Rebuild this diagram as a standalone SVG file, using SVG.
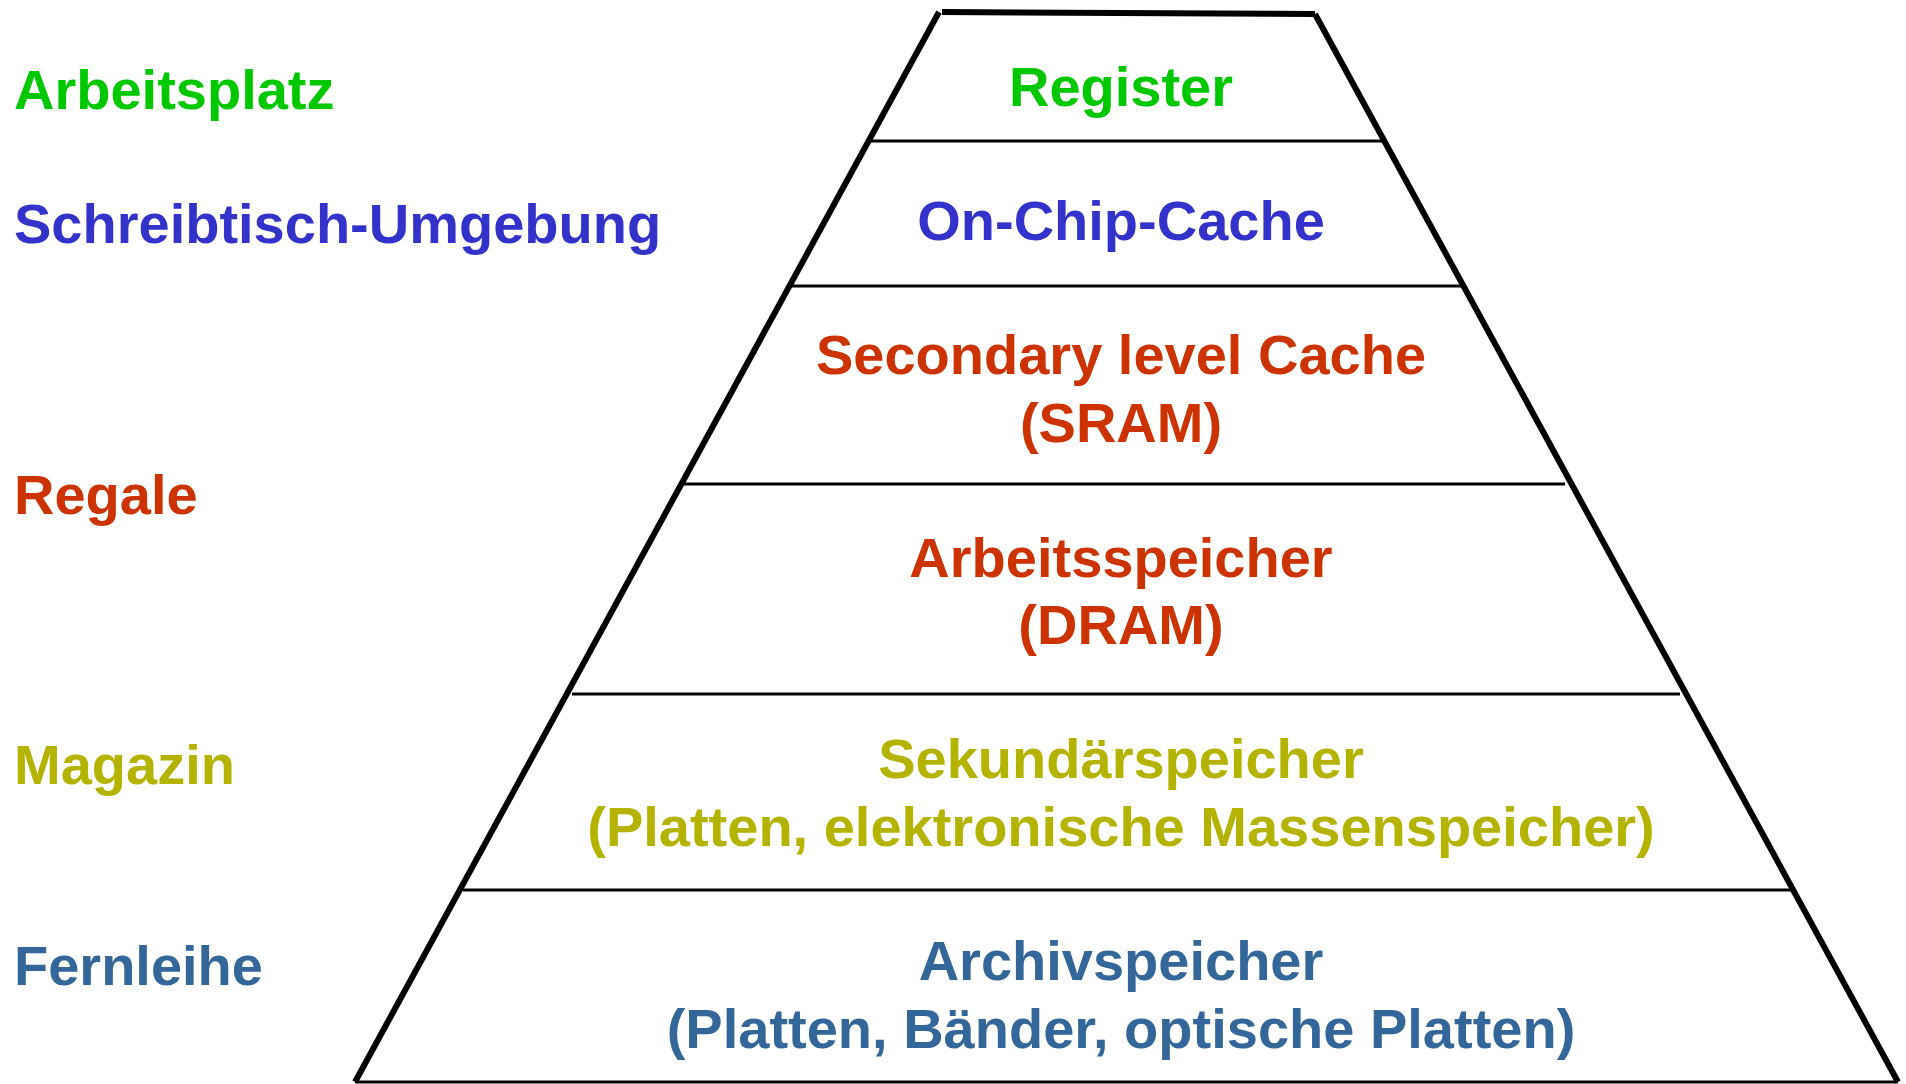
<svg xmlns="http://www.w3.org/2000/svg" width="1906" height="1084" viewBox="0 0 1906 1084">
  <style>
    text { font-family: "Liberation Sans", Arial, sans-serif; font-weight: bold; font-size: 56px; }
    .mid { text-anchor: middle; }
    .green { fill: #00c800; }
    .blue { fill: #3333cc; }
    .red { fill: #cc3300; }
    .olive { fill: #b3b300; }
    .steel { fill: #336699; }
    .outline { fill: none; stroke: #000; stroke-width: 6; stroke-linecap: butt; }
    .level { stroke: #000; stroke-width: 3; }
  </style>

  <rect width="1906" height="1084" fill="#fff"/>

  <!-- Pyramid outline and level separators -->
  <g id="connectors">
    <line class="outline" x1="355" y1="1082" x2="939" y2="12"/>
    <line class="outline" x1="942" y1="12" x2="1315" y2="14"/>
    <line class="outline" x1="1315" y1="14" x2="1898" y2="1082"/>
    <line class="level" x1="869" y1="141" x2="1384" y2="141"/>
    <line class="level" x1="790" y1="286" x2="1463" y2="286"/>
    <line class="level" x1="684" y1="484" x2="1565" y2="484"/>
    <line class="level" x1="572" y1="694" x2="1680" y2="694"/>
    <line class="level" x1="463" y1="890" x2="1793" y2="890"/>
    <line class="level" x1="355" y1="1082" x2="1898" y2="1082"/>
  </g>

  <!-- Analogy labels on the left -->
  <g id="label-arbeitsplatz"><text class="green" x="14" y="109">Arbeitsplatz</text></g>
  <g id="label-schreibtisch"><text class="blue" x="14" y="243">Schreibtisch-Umgebung</text></g>
  <g id="label-regale"><text class="red" x="14" y="514">Regale</text></g>
  <g id="label-magazin"><text class="olive" x="14" y="784">Magazin</text></g>
  <g id="label-fernleihe"><text class="steel" x="14" y="985">Fernleihe</text></g>

  <!-- Pyramid levels -->
  <g id="level-register"><text class="mid green" x="1121" y="106">Register</text></g>
  <g id="level-onchip"><text class="mid blue" x="1121" y="240">On-Chip-Cache</text></g>
  <g id="level-sram">
    <text class="mid red" x="1121" y="374">Secondary level Cache</text>
    <text class="mid red" x="1121" y="442">(SRAM)</text>
  </g>
  <g id="level-dram">
    <text class="mid red" x="1121" y="577">Arbeitsspeicher</text>
    <text class="mid red" x="1121" y="644">(DRAM)</text>
  </g>
  <g id="level-sekundaer">
    <text class="mid olive" x="1121" y="778">Sekundärspeicher</text>
    <text class="mid olive" x="1121" y="846">(Platten, elektronische Massenspeicher)</text>
  </g>
  <g id="level-archiv">
    <text class="mid steel" x="1121" y="980">Archivspeicher</text>
    <text class="mid steel" x="1121" y="1048">(Platten, Bänder, optische Platten)</text>
  </g>
</svg>
